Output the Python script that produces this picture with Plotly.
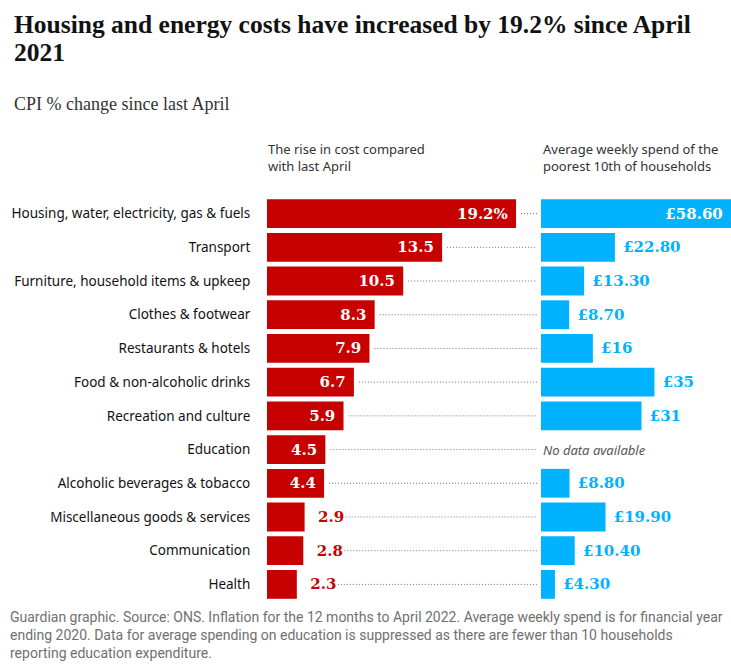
import plotly.graph_objects as go

categories = [
    "Housing, water, electricity, gas & fuels",
    "Transport",
    "Furniture, household items & upkeep",
    "Clothes & footwear",
    "Restaurants & hotels",
    "Food & non-alcoholic drinks",
    "Recreation and culture",
    "Education",
    "Alcoholic beverages & tobacco",
    "Miscellaneous goods & services",
    "Communication",
    "Health",
]
cpi_change = [19.2, 13.5, 10.5, 8.3, 7.9, 6.7, 5.9, 4.5, 4.4, 2.9, 2.8, 2.3]
cpi_labels = ["19.2%", "13.5", "10.5", "8.3", "7.9", "6.7", "5.9", "4.5", "4.4", "2.9", "2.8", "2.3"]
weekly_spend = [58.6, 22.8, 13.3, 8.7, 16, 35, 31, None, 8.8, 19.9, 10.4, 4.3]
spend_labels = ["£58.60", "£22.80", "£13.30", "£8.70", "£16", "£35", "£31", "", "£8.80", "£19.90", "£10.40", "£4.30"]

RED = "#c70000"
BLUE = "#00b2ff"
W, H = 731, 670
ML, MR, MT, MB = 267, 0, 193, 65
PW = W - ML - MR
PH = H - MT - MB

def px(p):
    return (p - ML) / PW

def py(p):
    return (H - MB - p) / PH

RED_SCALE = 12.97   # px per unit
red_end_px = 537
blue_start_px = 541
red_range = (red_end_px - ML) / RED_SCALE

VALUE_FONT = "DejaVu Serif"

fig = go.Figure()

inside_red = [v >= 4.4 for v in cpi_change]
fig.add_trace(go.Bar(
    y=categories, x=cpi_change, orientation="h",
    marker=dict(color=RED, line=dict(width=0)),
    text=[(t + "\u00a0") if ins else ("\u00a0\u00a0" + t) for t, ins in zip(cpi_labels, inside_red)],
    textposition=["inside" if ins else "outside" for ins in inside_red],
    insidetextanchor="end",
    insidetextfont=dict(color="white", size=15, family=VALUE_FONT, weight="bold"),
    outsidetextfont=dict(color=RED, size=15, family=VALUE_FONT, weight="bold"),
    textangle=0, constraintext="none", cliponaxis=False,
    xaxis="x", yaxis="y", hoverinfo="skip",
))

inside_blue = [(v is not None and v > 50) for v in weekly_spend]
fig.add_trace(go.Bar(
    y=categories, x=weekly_spend, orientation="h",
    marker=dict(color=BLUE, line=dict(width=0)),
    text=[(t + "\u00a0") if ins else ("\u00a0" + t) for t, ins in zip(spend_labels, inside_blue)],
    textposition=["inside" if ins else "outside" for ins in inside_blue],
    insidetextanchor="end",
    insidetextfont=dict(color="white", size=15, family=VALUE_FONT, weight="bold"),
    outsidetextfont=dict(color=BLUE, size=15, family=VALUE_FONT, weight="bold"),
    textangle=0, constraintext="none", cliponaxis=False,
    xaxis="x2", yaxis="y", hoverinfo="skip",
))

# dotted leader lines from the red label to the blue column
lx, ly = [], []
for cat, v, ins in zip(categories, cpi_change, inside_red):
    start = v + (5 / RED_SCALE if ins else 41 / RED_SCALE)
    lx += [start, red_range, None]
    ly += [cat, cat, None]
fig.add_trace(go.Scatter(
    x=lx, y=ly, mode="lines", xaxis="x", yaxis="y",
    line=dict(color="#707070", width=1, dash="1px,2px"),
    hoverinfo="skip", showlegend=False,
))

fig.update_layout(
    width=W, height=H, margin=dict(l=ML, r=MR, t=MT, b=MB),
    paper_bgcolor="white", plot_bgcolor="white",
    showlegend=False, bargap=0.146,
    xaxis=dict(domain=[0, px(red_end_px)], range=[0, red_range], visible=False, fixedrange=True),
    xaxis2=dict(domain=[px(blue_start_px), 1], range=[0, 58.6], visible=False, anchor="y", fixedrange=True),
    yaxis=dict(categoryorder="array", categoryarray=categories[::-1],
               showgrid=False, zeroline=False, showline=False,
               ticks="outside", ticklen=13, tickcolor="rgba(0,0,0,0)",
               tickfont=dict(family="Noto Sans", size=13.5, color="#121212"), fixedrange=True),
)

ann = []
ann.append(dict(
    x=px(12), y=py(24), xref="paper", yref="paper", xanchor="left", yanchor="middle",
    align="left", showarrow=False,
    text="<b>Housing and energy costs have increased by 19.2% since April</b>",
    font=dict(family="Liberation Serif", size=25.5, color="#121212"),
))
ann.append(dict(
    x=px(12), y=py(53), xref="paper", yref="paper", xanchor="left", yanchor="middle",
    align="left", showarrow=False,
    text="<b>2021</b>",
    font=dict(family="Liberation Serif", size=25.5, color="#121212"),
))
ann.append(dict(
    x=px(12), y=py(104), xref="paper", yref="paper", xanchor="left", yanchor="middle",
    align="left", showarrow=False,
    text="CPI % change since last April",
    font=dict(family="Liberation Serif", size=18, color="#333333"),
))
ann.append(dict(
    x=px(266), y=py(138), xref="paper", yref="paper", xanchor="left", yanchor="top",
    align="left", showarrow=False,
    text="The rise in cost compared<br>with last April",
    font=dict(family="Noto Sans", size=13, color="#333333"),
))
ann.append(dict(
    x=px(541), y=py(138), xref="paper", yref="paper", xanchor="left", yanchor="top",
    align="left", showarrow=False,
    text="Average weekly spend of the<br>poorest 10th of households",
    font=dict(family="Noto Sans", size=13, color="#333333"),
))
ann.append(dict(
    x=0, y="Education", xref="x2", yref="y", xanchor="left", yanchor="middle",
    showarrow=False, text="<i>No data available</i>",
    font=dict(family="Noto Sans", size=13, color="#555555"),
))
ann.append(dict(
    x=px(8), y=py(607), xref="paper", yref="paper", xanchor="left", yanchor="top",
    align="left", showarrow=False,
    text="Guardian graphic. Source: ONS. Inflation for the 12 months to April 2022. Average weekly spend is for financial year<br>"
         "ending 2020. Data for average spending on education is suppressed as there are fewer than 10 households<br>"
         "reporting education expenditure.",
    font=dict(family="Roboto", size=14, color="#707070"),
))
fig.update_layout(annotations=ann)

fig.write_html("out.html")
